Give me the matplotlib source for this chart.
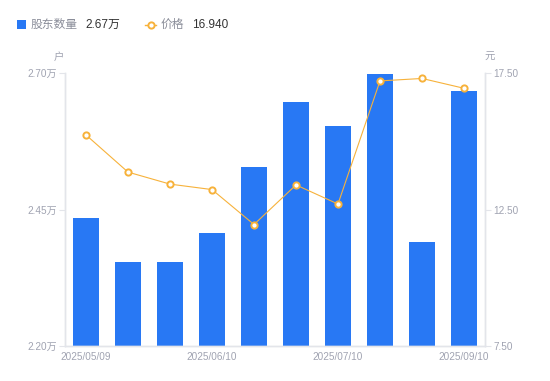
import matplotlib
matplotlib.use("Agg")
import matplotlib.pyplot as plt
from matplotlib.patches import Rectangle
from matplotlib.lines import Line2D
import numpy as np

plt.rcParams['font.family'] = ['Liberation Sans', 'Noto Sans CJK SC', 'DejaVu Sans']

# data
dates = ['2025/05/09', '2025/05/20', '2025/05/30', '2025/06/10', '2025/06/20',
         '2025/06/30', '2025/07/10', '2025/07/31', '2025/08/29', '2025/09/10']
holders = [2.434, 2.354, 2.354, 2.407, 2.528, 2.647, 2.603, 2.698, 2.390, 2.667]  # 万户
price = [15.23, 13.87, 13.43, 13.23, 11.95, 13.40, 12.70, 17.21, 17.30, 16.94]   # 元
shown_ticks = [0, 3, 6, 9]

blue = '#2878f4'
orange = '#f7b23b'
grey = '#a0a3b1'
axis_grey = '#e3e5ea'

W, H = 550, 381
fig = plt.figure(figsize=(W / 100, H / 100), dpi=100)
ax = fig.add_axes([65 / W, 1 - 346 / H, 420 / W, 273 / H])
ax2 = ax.twinx()

x = np.arange(len(dates))
ax.bar(x, holders, width=0.6, color=blue, zorder=2)
ax.set_xlim(-0.5, len(dates) - 0.5)
ax.set_ylim(2.20, 2.70)
ax.set_yticks([2.20, 2.45, 2.70])
ax.set_yticklabels(['2.20万', '2.45万', '2.70万'])
ax.set_xticks([x[i] for i in shown_ticks])
ax.set_xticklabels([dates[i] for i in shown_ticks])

ax2.plot(x, price, color=orange, lw=0.8, marker='o', ms=4.5, mfc='white',
         mec=orange, mew=1.4, zorder=3)
ax2.set_ylim(7.5, 17.5)
ax2.set_yticks([7.5, 12.5, 17.5])
ax2.set_yticklabels(['7.50', '12.50', '17.50'])

for a in (ax, ax2):
    a.spines['top'].set_visible(False)
    for s in ('left', 'right', 'bottom'):
        a.spines[s].set_color(axis_grey)
        a.spines[s].set_linewidth(1)
    a.tick_params(axis='both', colors=axis_grey, labelcolor=grey, labelsize=7.2,
                  length=4, width=0.8, pad=2)
ax.tick_params(axis='x', length=0, pad=4)

# unit labels
fig.text(59 / W, 1 - 57 / H, '户', color=grey, fontsize=7.5, ha='center', va='center')
fig.text(490 / W, 1 - 57 / H, '元', color=grey, fontsize=7.5, ha='center', va='center')

# legend
fig.patches.append(Rectangle((17 / W, 1 - 29 / H), 9 / W, 9 / H, transform=fig.transFigure,
                             facecolor=blue, edgecolor='none'))
fig.text(31 / W, 1 - 24.5 / H, '股东数量', color='#8a8d99', fontsize=8.5, va='center')
fig.text(85 / W, 1 - 24.5 / H, '2.67万', color='#333333', fontsize=8.5, va='center')
fig.lines.append(Line2D([145 / W, 156 / W], [1 - 24.5 / H, 1 - 24.5 / H], transform=fig.transFigure,
                        color=orange, lw=1))
fig.lines.append(Line2D([150.5 / W], [1 - 24.5 / H], transform=fig.transFigure,
                        color=orange, marker='o', ms=4.5, mfc='white', mec=orange, mew=1.4))
fig.text(161 / W, 1 - 24.5 / H, '价格', color='#8a8d99', fontsize=8.5, va='center')
fig.text(192 / W, 1 - 24.5 / H, '16.940', color='#333333', fontsize=8.5, va='center')

fig.savefig('out.png', dpi=100)
